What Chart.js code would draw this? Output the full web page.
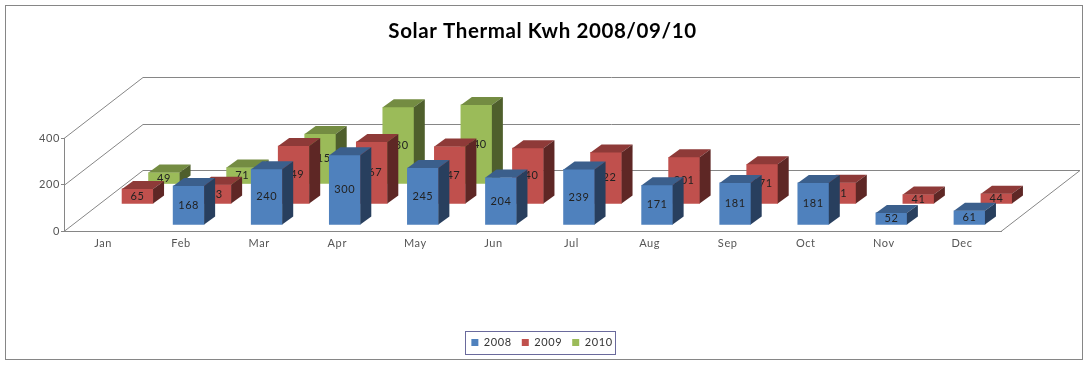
<!DOCTYPE html>
<html>
<head>
<meta charset="utf-8">
<title>Solar Thermal Kwh</title>
<style>
  html, body { margin: 0; padding: 0; background: #fff; }
  canvas { display: block; }
</style>
<script src="https://cdn.jsdelivr.net/npm/chart.js@4/dist/chart.umd.min.js"></script>
</head>
<body>
<canvas id="myChart" width="1089" height="365"></canvas>
<script>
// data
var months = ["Jan","Feb","Mar","Apr","May","Jun","Jul","Aug","Sep","Oct","Nov","Dec"];
var kwh2008 = [null,168,240,300,245,204,239,171,181,181,52,61];
var kwh2009 = [65,83,249,267,247,240,222,201,171,91,41,44];
var kwh2010 = [49,71,215,330,340,null,null,null,null,null,null,null];
var seriesNames = ["2008","2009","2010"];
var yTicks = [0,200,400];

var GREY = "#868686";
// where each series stands on the floor, relative to the front edge
var rows = [
  {dx: 7.5, dy: 6, front: "#4F81BD", top: "#3B5F8C", side: "#283F5E"},
  {dx: 34.5, dy: 27, front: "#C0504D", top: "#8E3A38", side: "#5E2725"},
  {dx: 61, dy: 47, front: "#9BBB59", top: "#748C42", side: "#4F5F2C"}
];
var barDepthX = 11, barDepthY = 8;
var wallDepthX = 79, wallDepthY = 61;

function spacing(chart){
  chart.ctx.letterSpacing = "0.6px";
}

var threeD = {
  id: "threeD",
  beforeLayout: function(chart){ spacing(chart); },
  afterLayout: function(chart){
    chart.titleBlock.left += 0.5;
    chart.titleBlock.right += 0.5;
  },
  // push the bars back to their row
  afterDatasetsUpdate: function(chart){
    rows.forEach(function(row, i){
      chart.getDatasetMeta(i).data.forEach(function(el){
        el.x += row.dx;
        el.y -= row.dy;
        el.base -= row.dy;
      });
    });
  },
  beforeDraw: function(chart){
    var ctx = chart.ctx;
    spacing(chart);
    ctx.save();
    ctx.strokeStyle = GREY;
    ctx.lineWidth = 1;
    ctx.strokeRect(5.5, 5.5, 1077, 354);
    ctx.restore();
  },
  // floor, side wall and back wall
  beforeDatasetsDraw: function(chart){
    var ctx = chart.ctx, a = chart.chartArea, y = chart.scales.y;
    ctx.save();
    ctx.strokeStyle = GREY;
    ctx.lineWidth = 1;
    yTicks.forEach(function(v){
      var py = Math.round(y.getPixelForValue(v));
      ctx.beginPath();
      ctx.moveTo(a.left, py + 0.5);
      ctx.lineTo(a.left + wallDepthX, py - wallDepthY + 0.5);
      ctx.lineTo(a.right + wallDepthX, py - wallDepthY + 0.5);
      if(v === 0){
        ctx.lineTo(a.right, py + 0.5);
      }
      ctx.stroke();
    });
    ctx.restore();
  },
  // side and top of each bar, then its value
  afterDatasetDraw: function(chart, args){
    var ctx = chart.ctx, row = rows[args.index], ds = chart.data.datasets[args.index];
    ctx.save();
    args.meta.data.forEach(function(el, i){
      if(ds.data[i] == null) return;
      var l = el.x - el.width/2, r = el.x + el.width/2, t = el.y, b = el.base;
      ctx.fillStyle = row.top;
      ctx.beginPath();
      ctx.moveTo(l, t);
      ctx.lineTo(l + barDepthX, t - barDepthY);
      ctx.lineTo(r + barDepthX, t - barDepthY);
      ctx.lineTo(r, t);
      ctx.closePath();
      ctx.fill();
      ctx.fillStyle = row.side;
      ctx.beginPath();
      ctx.moveTo(r, t);
      ctx.lineTo(r + barDepthX, t - barDepthY);
      ctx.lineTo(r + barDepthX, b - barDepthY);
      ctx.lineTo(r, b);
      ctx.closePath();
      ctx.fill();
      ctx.fillStyle = "#222";
      ctx.font = "11px Lato";
      ctx.textAlign = "center";
      ctx.textBaseline = "middle";
      ctx.fillText(ds.data[i], el.x, (t + b)/2);
    });
    ctx.restore();
  },
  // legend frame
  afterDraw: function(chart){
    var ctx = chart.ctx;
    ctx.save();
    ctx.strokeStyle = "#6A6A9C";
    ctx.lineWidth = 1;
    ctx.strokeRect(465.5, 331.5, 150, 23);
    ctx.restore();
  }
};

var totalChart = new Chart("myChart", {
  type: "bar",
  data: {
    labels: months,
    datasets: [
      {label: seriesNames[0], data: kwh2008, backgroundColor: rows[0].front},
      {label: seriesNames[1], data: kwh2009, backgroundColor: rows[1].front},
      {label: seriesNames[2], data: kwh2010, backgroundColor: rows[2].front}
    ]
  },
  options: {
    responsive: false,
    animation: false,
    events: [],
    grouped: false,
    barThickness: 31,
    clip: false,
    layout: {padding: {left: 0, right: 5, top: 0, bottom: 7}},
    font: {family: "Lato"},
    scales: {
      x: {
        grid: {display: false, drawTicks: false},
        border: {display: true, color: GREY},
        ticks: {color: "#555", font: {family: "Lato", size: 11}, padding: 6, maxRotation: 0, autoSkip: false},
        afterFit: function(s){ s.height = 96; }
      },
      y: {
        min: 0,
        max: 400,
        afterBuildTicks: function(s){ s.ticks = yTicks.map(function(v){ return {value: v}; }); },
        grid: {drawOnChartArea: false, drawTicks: true, tickLength: 3, color: GREY},
        border: {display: true, color: GREY},
        ticks: {color: "#555", font: {family: "Lato", size: 11}, padding: 1},
        afterFit: function(s){ s.width = 64; }
      },
      // only holds the empty room right of the floor
      spare: {
        position: "right",
        grid: {display: false},
        border: {display: false},
        ticks: {display: false},
        afterFit: function(s){ s.width = 83; }
      }
    },
    plugins: {
      title: {
        display: true,
        text: "Solar Thermal Kwh 2008/09/10",
        color: "#000",
        font: {family: "Lato", size: 20.5, weight: "bold"},
        padding: {top: 19, bottom: 94.4}
      },
      legend: {
        position: "bottom",
        labels: {
          boxWidth: 7,
          boxHeight: 7,
          padding: 10,
          color: "#333",
          font: {family: "Lato", size: 11}
        }
      },
      tooltip: {enabled: false}
    }
  },
  plugins: [threeD]
});
</script>
</body>
</html>
